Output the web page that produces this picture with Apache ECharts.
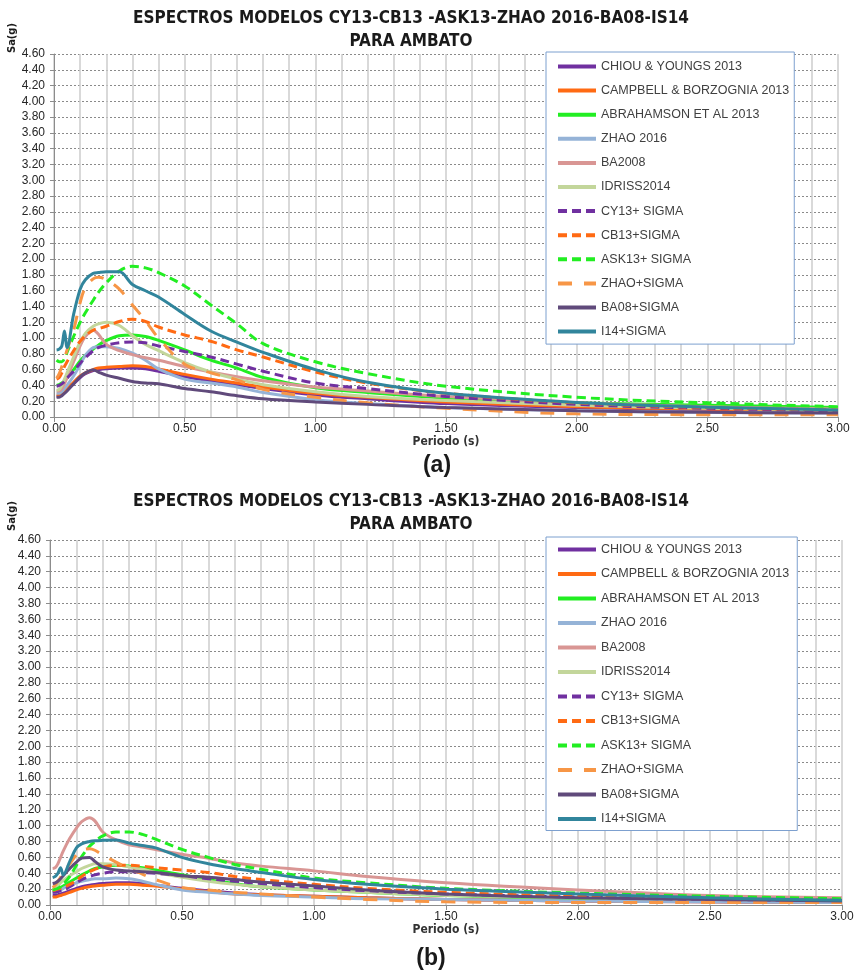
<!DOCTYPE html>
<html>
<head>
<meta charset="utf-8">
<title>Espectros modelos - Ambato</title>
<script src="https://cdn.jsdelivr.net/npm/echarts@6/dist/echarts.min.js"></script>
<style>
  html, body { margin: 0; padding: 0; background: #ffffff; }
  #chart { width: 857px; height: 974px; }
</style>
</head>
<body>
<div id="chart"></div>
<script>
// Periods (s) at which each spectrum is sampled
const periods = [0.01, 0.02, 0.03, 0.04, 0.05, 0.075, 0.1, 0.12, 0.15, 0.17, 0.2, 0.25, 0.3, 0.35, 0.4, 0.5, 0.6, 0.7, 0.8, 1.0, 1.2, 1.5, 2.0, 2.5, 3.0];

// Series names (legend order)
const seriesNames = [
  'CHIOU & YOUNGS 2013', 'CAMPBELL & BORZOGNIA 2013', 'ABRAHAMSON ET AL 2013',
  'ZHAO 2016', 'BA2008', 'IDRISS2014',
  'CY13+ SIGMA', 'CB13+SIGMA', 'ASK13+ SIGMA', 'ZHAO+SIGMA', 'BA08+SIGMA', 'I14+SIGMA'
];

// Axis tick labels
const xTicks = ['0.00', '0.50', '1.00', '1.50', '2.00', '2.50', '3.00'];
const yMax = 4.6;

// ---- Panel (a): Sa(g) ----
const aCY13    = [0.26, 0.26, 0.28, 0.31, 0.34, 0.42, 0.50, 0.55, 0.59, 0.60, 0.61, 0.62, 0.62, 0.61, 0.58, 0.51, 0.46, 0.41, 0.36, 0.28, 0.23, 0.17, 0.12, 0.09, 0.07];
const aCB13    = [0.28, 0.28, 0.30, 0.33, 0.36, 0.44, 0.52, 0.56, 0.60, 0.62, 0.63, 0.64, 0.65, 0.64, 0.61, 0.54, 0.48, 0.43, 0.38, 0.30, 0.25, 0.19, 0.13, 0.10, 0.08];
const aASK13   = [0.40, 0.41, 0.43, 0.46, 0.50, 0.60, 0.71, 0.78, 0.86, 0.91, 0.97, 1.03, 1.04, 1.02, 0.97, 0.85, 0.72, 0.62, 0.50, 0.37, 0.31, 0.24, 0.18, 0.15, 0.12];
const aZHAO    = [0.30, 0.30, 0.32, 0.36, 0.40, 0.52, 0.66, 0.78, 0.88, 0.89, 0.89, 0.87, 0.81, 0.72, 0.61, 0.48, 0.43, 0.38, 0.31, 0.22, 0.17, 0.12, 0.08, 0.06, 0.05];
const aBA08    = [0.33, 0.33, 0.36, 0.42, 0.50, 0.70, 0.90, 1.02, 1.10, 1.05, 0.92, 0.84, 0.79, 0.75, 0.72, 0.64, 0.57, 0.51, 0.46, 0.38, 0.33, 0.26, 0.18, 0.13, 0.10];
const aI14     = [0.34, 0.35, 0.40, 0.48, 0.56, 0.76, 0.95, 1.06, 1.15, 1.18, 1.20, 1.16, 1.03, 0.92, 0.84, 0.69, 0.57, 0.48, 0.41, 0.32, 0.26, 0.21, 0.15, 0.11, 0.09];
const aCY13s   = [0.39, 0.40, 0.42, 0.45, 0.49, 0.58, 0.68, 0.75, 0.84, 0.88, 0.91, 0.94, 0.95, 0.94, 0.90, 0.83, 0.76, 0.67, 0.58, 0.43, 0.36, 0.26, 0.16, 0.11, 0.08];
const aCB13s   = [0.48, 0.50, 0.56, 0.64, 0.70, 0.84, 0.96, 1.03, 1.10, 1.12, 1.15, 1.21, 1.24, 1.21, 1.14, 1.04, 0.96, 0.85, 0.76, 0.57, 0.43, 0.30, 0.18, 0.12, 0.09];
const aASK13s  = [0.72, 0.70, 0.70, 0.74, 0.82, 1.02, 1.20, 1.32, 1.48, 1.58, 1.70, 1.85, 1.91, 1.89, 1.83, 1.66, 1.42, 1.18, 0.93, 0.70, 0.55, 0.39, 0.25, 0.18, 0.13];
const aZHAOs   = [0.49, 0.55, 0.64, 0.74, 0.85, 1.10, 1.45, 1.64, 1.75, 1.77, 1.74, 1.62, 1.42, 1.22, 1.00, 0.67, 0.56, 0.47, 0.35, 0.25, 0.18, 0.11, 0.04, 0.03, 0.03];
const aBA08s   = [0.25, 0.25, 0.27, 0.30, 0.33, 0.42, 0.51, 0.56, 0.60, 0.57, 0.53, 0.49, 0.45, 0.43, 0.42, 0.36, 0.32, 0.27, 0.23, 0.19, 0.16, 0.12, 0.08, 0.06, 0.05];
const aI14s    = [0.85, 0.86, 0.90, 1.09, 0.88, 1.30, 1.62, 1.74, 1.82, 1.83, 1.84, 1.84, 1.68, 1.60, 1.52, 1.30, 1.09, 0.95, 0.82, 0.60, 0.44, 0.30, 0.185, 0.125, 0.09];

// ---- Panel (b): Sa(g) ----
const bCY13    = [0.12, 0.12, 0.13, 0.14, 0.15, 0.18, 0.21, 0.23, 0.25, 0.26, 0.27, 0.28, 0.28, 0.27, 0.25, 0.21, 0.18, 0.15, 0.13, 0.11, 0.09, 0.07, 0.05, 0.04, 0.03];
const bCB13    = [0.10, 0.10, 0.11, 0.12, 0.13, 0.16, 0.19, 0.21, 0.23, 0.24, 0.25, 0.26, 0.26, 0.25, 0.24, 0.20, 0.17, 0.14, 0.13, 0.11, 0.09, 0.07, 0.05, 0.04, 0.03];
const bASK13   = [0.19, 0.19, 0.20, 0.22, 0.24, 0.29, 0.34, 0.38, 0.43, 0.46, 0.48, 0.50, 0.49, 0.47, 0.44, 0.38, 0.32, 0.27, 0.23, 0.19, 0.16, 0.12, 0.08, 0.06, 0.05];
const bZHAO    = [0.16, 0.16, 0.17, 0.19, 0.21, 0.25, 0.28, 0.30, 0.32, 0.33, 0.33, 0.34, 0.33, 0.30, 0.26, 0.19, 0.16, 0.14, 0.12, 0.10, 0.08, 0.07, 0.05, 0.04, 0.03];
const bBA08    = [0.46, 0.47, 0.52, 0.60, 0.68, 0.84, 0.97, 1.05, 1.10, 1.06, 0.92, 0.82, 0.76, 0.73, 0.70, 0.64, 0.59, 0.53, 0.49, 0.43, 0.36, 0.28, 0.19, 0.12, 0.09];
const bI14     = [0.22, 0.23, 0.25, 0.28, 0.31, 0.37, 0.42, 0.46, 0.50, 0.52, 0.52, 0.51, 0.48, 0.45, 0.41, 0.35, 0.30, 0.26, 0.23, 0.19, 0.16, 0.12, 0.09, 0.07, 0.06];
const bCY13s   = [0.16, 0.16, 0.17, 0.18, 0.19, 0.23, 0.28, 0.32, 0.36, 0.38, 0.40, 0.42, 0.42, 0.41, 0.40, 0.37, 0.33, 0.30, 0.27, 0.22, 0.18, 0.14, 0.10, 0.07, 0.06];
const bCB13s   = [0.185, 0.19, 0.20, 0.21, 0.22, 0.26, 0.31, 0.36, 0.42, 0.45, 0.48, 0.50, 0.50, 0.49, 0.47, 0.44, 0.41, 0.36, 0.32, 0.26, 0.21, 0.16, 0.11, 0.08, 0.06];
const bASK13s  = [0.19, 0.20, 0.21, 0.23, 0.26, 0.36, 0.50, 0.61, 0.74, 0.80, 0.87, 0.92, 0.92, 0.89, 0.83, 0.70, 0.60, 0.51, 0.45, 0.34, 0.28, 0.21, 0.15, 0.11, 0.08];
const bZHAOs   = [0.22, 0.25, 0.30, 0.35, 0.40, 0.52, 0.63, 0.69, 0.71, 0.69, 0.63, 0.54, 0.46, 0.39, 0.32, 0.22, 0.19, 0.16, 0.14, 0.10, 0.07, 0.04, 0.03, 0.03, 0.03];
const bBA08s   = [0.27, 0.28, 0.30, 0.33, 0.37, 0.46, 0.54, 0.59, 0.60, 0.55, 0.48, 0.44, 0.43, 0.42, 0.41, 0.37, 0.35, 0.32, 0.29, 0.24, 0.19, 0.14, 0.09, 0.07, 0.05];
const bI14s    = [0.345, 0.36, 0.40, 0.47, 0.38, 0.55, 0.72, 0.77, 0.80, 0.81, 0.815, 0.82, 0.78, 0.75, 0.72, 0.60, 0.52, 0.46, 0.41, 0.32, 0.26, 0.20, 0.14, 0.09, 0.06];

const panelA = [aCY13, aCB13, aASK13, aZHAO, aBA08, aI14, aCY13s, aCB13s, aASK13s, aZHAOs, aBA08s, aI14s];
const panelB = [bCY13, bCB13, bASK13, bZHAO, bBA08, bI14, bCY13s, bCB13s, bASK13s, bZHAOs, bBA08s, bI14s];

// Line look for each series (same order as seriesNames)
const shortDash = [9, 5];
const longDash = [14, 12];
const lineLooks = [
  { color: '#7030A0', type: 'solid' },
  { color: '#FF6A13', type: 'solid' },
  { color: '#22EE22', type: 'solid' },
  { color: '#95B3D7', type: 'solid' },
  { color: '#D99694', type: 'solid' },
  { color: '#C3D69B', type: 'solid' },
  { color: '#7030A0', type: shortDash },
  { color: '#FF6A13', type: shortDash },
  { color: '#22EE22', type: shortDash },
  { color: '#F79646', type: longDash },
  { color: '#604A7B', type: 'solid' },
  { color: '#31859C', type: 'solid' }
];

const FONT = "'Liberation Sans', Arial, sans-serif";
const NARROW = "'Liberation Sans Narrow', 'DejaVu Sans Condensed', 'Liberation Sans', sans-serif";

const grids = [
  { left: 54, top: 54, width: 784, height: 363 },
  { left: 50, top: 540, width: 792, height: 365 }
];

function xAxisFor(i) {
  return {
    type: 'value', gridIndex: i, min: 0, max: 3, interval: 0.5,
    name: 'Periodo (s)', nameLocation: 'middle', nameGap: 16,
    nameTextStyle: { fontFamily: NARROW, fontWeight: 'bold', fontSize: 12, color: '#333' },
    axisLine: { show: true, lineStyle: { color: '#8c8c8c', width: 1 } },
    axisTick: { show: true, length: 5, lineStyle: { color: '#8c8c8c' } },
    minorTick: { show: false, splitNumber: 5 },
    splitLine: { show: true, lineStyle: { color: '#cdcdcd', width: 1.5 } },
    minorSplitLine: { show: true, lineStyle: { color: '#cdcdcd', width: 1.5 } },
    axisLabel: {
      fontFamily: FONT, fontSize: 12, color: '#262626', margin: 6,
      formatter: v => xTicks[Math.round(v * 2)] || ''
    }
  };
}

function yAxisFor(i) {
  return {
    type: 'value', gridIndex: i, min: 0, max: yMax, interval: 0.2,
    axisLine: { show: true, lineStyle: { color: '#8c8c8c', width: 1 } },
    axisTick: { show: true, length: 4, lineStyle: { color: '#8c8c8c' } },
    splitLine: { show: true, lineStyle: { color: '#8a8a8a', width: 1, type: [2, 2] } },
    axisLabel: {
      fontFamily: FONT, fontSize: 12, color: '#262626', margin: 9,
      formatter: v => v.toFixed(2)
    }
  };
}

function buildSeries(panel, gridIdx) {
  return panel.map((vals, k) => ({
    name: seriesNames[k],
    type: 'line',
    xAxisIndex: gridIdx,
    yAxisIndex: gridIdx,
    data: periods.map((t, j) => [t, vals[j]]),
    smooth: 0.35,
    symbol: 'none',
    lineStyle: { color: lineLooks[k].color, width: 3, type: lineLooks[k].type },
    itemStyle: { color: lineLooks[k].color },
    emphasis: { disabled: true }
  }));
}

function legendFor(top, pad, gap) {
  return {
    orient: 'vertical', left: 546, top: top,
    padding: pad, itemWidth: 38, itemHeight: 12, itemGap: gap,
    backgroundColor: '#ffffff', borderColor: '#7DA0CF', borderWidth: 1,
    // the line sample only, without a marker in its middle
    itemStyle: { opacity: 0 },
    lineStyle: { width: 4 },
    textStyle: { fontFamily: FONT, fontSize: 12.5, color: '#404040' },
    data: seriesNames,
    selectedMode: false
  };
}

function titleText(y, text) {
  return {
    type: 'text', x: 411, y: y, z: 100,
    style: {
      text: text, fill: '#1a1a1a',
      font: 'bold 17px ' + NARROW,
      align: 'center', verticalAlign: 'middle',
      textAlign: 'center', textVerticalAlign: 'middle'
    }
  };
}

function sideLabel(x, y, text, font, rot) {
  return {
    type: 'text', x: x, y: y, rotation: rot || 0, z: 100,
    style: {
      text: text, fill: '#1a1a1a', font: font,
      align: 'center', verticalAlign: 'middle',
      textAlign: 'center', textVerticalAlign: 'middle'
    }
  };
}

const chart = echarts.init(document.getElementById('chart'), null, { renderer: 'canvas' });
chart.setOption({
  animation: false,
  backgroundColor: '#ffffff',
  grid: grids,
  xAxis: [xAxisFor(0), xAxisFor(1)],
  yAxis: [yAxisFor(0), yAxisFor(1)],
  legend: [legendFor(52, [8, 5, 6, 10], 11.1), legendFor(537, [6, 8, 5, 10], 11.5)],
  series: buildSeries(panelA, 0).concat(buildSeries(panelB, 1)),
  graphic: [
    titleText(19, 'ESPECTROS MODELOS CY13-CB13 -ASK13-ZHAO 2016-BA08-IS14'),
    titleText(42, 'PARA AMBATO'),
    titleText(502, 'ESPECTROS MODELOS CY13-CB13 -ASK13-ZHAO 2016-BA08-IS14'),
    titleText(525, 'PARA AMBATO'),
    sideLabel(12, 38, 'Sa(g)', 'bold 11px ' + NARROW, Math.PI / 2),
    sideLabel(12, 516, 'Sa(g)', 'bold 11px ' + NARROW, Math.PI / 2),
    sideLabel(437, 466, '(a)', 'bold 23px ' + FONT),
    sideLabel(431, 959, '(b)', 'bold 23px ' + FONT)
  ]
});
</script>
</body>
</html>
